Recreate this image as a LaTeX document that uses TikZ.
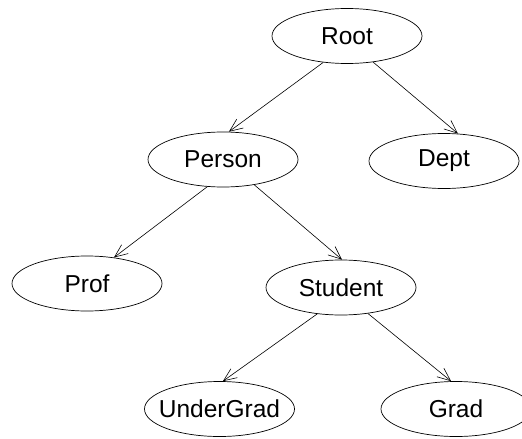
\documentclass[tikz,border=0pt]{standalone}
\usepackage{fontspec}
\setmainfont{Liberation Sans}
\usetikzlibrary{arrows.meta, shapes.geometric}

\begin{document}
\begin{tikzpicture}[x=1pt, y=-1pt,
	cls/.style = {draw, ellipse, line width=0.7pt, minimum width=150pt, minimum height=55pt, inner xsep=-15pt, inner ysep=0pt, font=\fontsize{24.5}{28}\selectfont},
	isa/.style = {-{Straight Barb[length=13pt, width=11pt]}, line width=0.6pt}]
	\useasboundingbox (0,0) rectangle (522,439);
	\node[cls] (root) at (347,36) {Root};
	\node[cls] (person) at (223,159.5) {Person};
	\node[cls] (dept) at (444,161) {Dept};
	\node[cls] (prof) at (87,283.5) {Prof};
	\node[cls] (student) at (341,287.5) {Student};
	\node[cls] (ugrad) at (219.5,409) {UnderGrad};
	\node[cls] (grad) at (456,409) {Grad};
	% edges
	\draw[isa] (root.-132) to (person.78);
	\draw[isa] (root.-45) to (dept.63);
	\draw[isa] (person.-120) to (prof.44);
	\draw[isa] (person.-39) to (student.88);
	\draw[isa] (student.-132) to (ugrad.83);
	\draw[isa] (student.-44) to (grad.100);
\end{tikzpicture}
\end{document}
